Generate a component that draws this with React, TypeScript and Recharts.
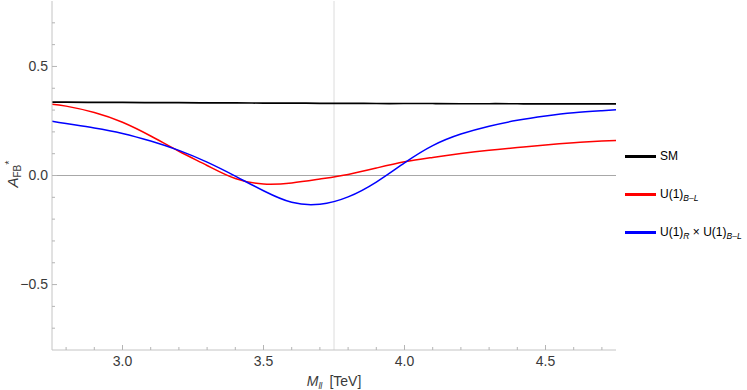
import React from "react";
import { LineChart, Line, XAxis, YAxis, ReferenceLine, Legend } from "recharts";

const mll = [2.75, 2.8, 2.9, 3.0, 3.1, 3.2, 3.3, 3.4, 3.5, 3.6, 3.7, 3.8, 3.9, 4.0, 4.1, 4.2, 4.3, 4.4, 4.5, 4.6, 4.7, 4.75];
const smValues = [0.336, 0.336, 0.335, 0.335, 0.334, 0.334, 0.333, 0.333, 0.332, 0.332, 0.331, 0.331, 0.330, 0.330, 0.330, 0.329, 0.329, 0.329, 0.328, 0.328, 0.328, 0.328];
const blValues = [0.327, 0.318, 0.289, 0.244, 0.181, 0.111, 0.046, -0.014, -0.039, -0.034, -0.016, 0.005, 0.034, 0.063, 0.083, 0.101, 0.116, 0.128, 0.140, 0.150, 0.158, 0.161];
const rblValues = [0.249, 0.238, 0.218, 0.193, 0.158, 0.115, 0.061, -0.003, -0.070, -0.123, -0.132, -0.098, -0.030, 0.058, 0.137, 0.190, 0.226, 0.253, 0.273, 0.288, 0.297, 0.301];

const xTicks = [2.8, 2.9, 3.0, 3.1, 3.2, 3.3, 3.4, 3.5, 3.6, 3.7, 3.8, 3.9, 4.0, 4.1, 4.2, 4.3, 4.4, 4.5, 4.6, 4.7];
const xLabelTicks = [3.0, 3.5, 4.0, 4.5];
const yTicks = [-0.7, -0.6, -0.5, -0.4, -0.3, -0.2, -0.1, 0.0, 0.1, 0.2, 0.3, 0.4, 0.5, 0.6, 0.7];
const yLabelTicks = [-0.5, 0.0, 0.5];

const seriesNames = ["SM", "U(1)_B-L", "U(1)_R x U(1)_B-L"];
const seriesColors = ["#000000", "#ff0000", "#0000ff"];

const data = mll.map((m, i) => ({ mll: m, sm: smValues[i], bl: blValues[i], rbl: rblValues[i] }));

const FONT = '"Liberation Sans", Arial, sans-serif';
const TICK_COLOR = "#b4b4b4";
const LABEL_COLOR = "#3a3a3a";

const isLabeled = (v: number, list: number[]) => list.some((t) => Math.abs(t - v) < 1e-6);
const fmt = (v: number) => (v < 0 ? "\u2212" + Math.abs(v).toFixed(1) : v.toFixed(1));

const BottomTick = (props: any) => {
  const { x, y, payload } = props;
  const major = isLabeled(payload.value, xLabelTicks);
  return (
    <g>
      <line x1={x} x2={x} y1={y} y2={y - (major ? 5 : 3)} stroke={TICK_COLOR} strokeWidth={1} />
      {major && (
        <text x={x} y={y + 16} textAnchor="middle" fontSize={14} fill={LABEL_COLOR} fontFamily={FONT}>
          {fmt(payload.value)}
        </text>
      )}
    </g>
  );
};

const TopTick = (props: any) => {
  const { x, y, payload } = props;
  const major = isLabeled(payload.value, xLabelTicks);
  return <line x1={x} x2={x} y1={y} y2={y + (major ? 5 : 3)} stroke={TICK_COLOR} strokeWidth={1} />;
};

const LeftTick = (props: any) => {
  const { x, y, payload } = props;
  const major = isLabeled(payload.value, yLabelTicks);
  return (
    <g>
      <line x1={x} x2={x + (major ? 5 : 3)} y1={y} y2={y} stroke={TICK_COLOR} strokeWidth={1} />
      {major && (
        <text x={x - 4} y={y} dy="0.35em" textAnchor="end" fontSize={14} fill={LABEL_COLOR} fontFamily={FONT}>
          {fmt(payload.value)}
        </text>
      )}
    </g>
  );
};

const RightTick = (props: any) => {
  const { x, y, payload } = props;
  const major = isLabeled(payload.value, yLabelTicks);
  return <line x1={x} x2={x - (major ? 5 : 3)} y1={y} y2={y} stroke={TICK_COLOR} strokeWidth={1} />;
};

const XTitle = () => (
  <text x={334} y={386} textAnchor="middle" fontSize={14} fill={LABEL_COLOR} fontFamily={FONT}>
    <tspan fontStyle="italic">M</tspan>
    <tspan fontStyle="italic" fontSize={9} dy={3}>ll</tspan>
    <tspan dy={-3} dx={7}>[TeV]</tspan>
  </text>
);

const YTitle = () => (
  <text
    x={18}
    y={174}
    transform="rotate(-90 18 174)"
    textAnchor="middle"
    fontSize={15}
    fill={LABEL_COLOR}
    fontFamily={FONT}
  >
    <tspan fontStyle="italic">A</tspan>
    <tspan fontSize={10} dy={3}>FB</tspan>
    <tspan fontSize={11} dy={-8}>*</tspan>
  </text>
);

const Sub = ({ children }: { children: React.ReactNode }) => (
  <span style={{ fontSize: 8.5, fontStyle: "italic", position: "relative", top: 3 }}>{children}</span>
);

const legendLabels: React.ReactNode[] = [
  <span>SM</span>,
  <span>
    U(1)<Sub>B{"\u2013"}L</Sub>
  </span>,
  <span>
    U(1)<Sub>R</Sub> {"\u00d7"} U(1)<Sub>B{"\u2013"}L</Sub>
  </span>,
];

const renderLegend = () => (
  <div style={{ fontFamily: FONT, fontSize: 12, color: "#000" }}>
    {seriesNames.map((name, i) => (
      <div key={name} style={{ height: 38, display: "flex", alignItems: "center", whiteSpace: "nowrap" }}>
        <div style={{ width: 31, height: 3, background: seriesColors[i], marginRight: 4 }} />
        {legendLabels[i]}
      </div>
    ))}
  </div>
);

export default function App() {
  return (
    <div style={{ position: "absolute", left: 0, top: 0, width: 747, height: 390, background: "#fff" }}>
      <LineChart width={747} height={390} data={data} margin={{ top: 1, right: 131, bottom: 0, left: 0 }}>
        <XAxis
          dataKey="mll"
          type="number"
          domain={[2.75, 4.75]}
          ticks={xTicks}
          interval={0}
          height={40}
          tickSize={0}
          tickMargin={0}
          tick={(p: any) => <BottomTick {...p} />}
          tickLine={false}
          axisLine={{ stroke: "#c4c4c4" }}
          allowDataOverflow
          label={() => <XTitle />}
        />
        <XAxis
          xAxisId="top"
          orientation="top"
          dataKey="mll"
          type="number"
          domain={[2.75, 4.75]}
          ticks={xTicks}
          interval={0}
          height={0}
          tickSize={0}
          tickMargin={0}
          tick={(p: any) => <TopTick {...p} />}
          tickLine={false}
          axisLine={{ stroke: "#c4c4c4" }}
          allowDataOverflow
        />
        <YAxis
          type="number"
          domain={[-0.8, 0.8]}
          ticks={yTicks}
          interval={0}
          width={52}
          tickSize={0}
          tickMargin={0}
          tick={(p: any) => <LeftTick {...p} />}
          tickLine={false}
          axisLine={{ stroke: "#c4c4c4" }}
          allowDataOverflow
          label={() => <YTitle />}
        />
        <YAxis
          yAxisId="right"
          orientation="right"
          type="number"
          domain={[-0.8, 0.8]}
          ticks={yTicks}
          interval={0}
          width={0}
          tickSize={0}
          tickMargin={0}
          tick={(p: any) => <RightTick {...p} />}
          tickLine={false}
          axisLine={{ stroke: "#c4c4c4" }}
          allowDataOverflow
        />
        <ReferenceLine x={3.75} stroke="#dcdcdc" strokeWidth={1} />
        <ReferenceLine y={0} stroke="#a8a8a8" strokeWidth={1} />
        <Line type="natural" dataKey="sm" stroke={seriesColors[0]} strokeWidth={1.7} dot={false} isAnimationActive={false} />
        <Line type="natural" dataKey="bl" stroke={seriesColors[1]} strokeWidth={1.5} dot={false} isAnimationActive={false} />
        <Line type="natural" dataKey="rbl" stroke={seriesColors[2]} strokeWidth={1.5} dot={false} isAnimationActive={false} />
        <Legend
          layout="vertical"
          align="center"
          verticalAlign="middle"
          content={renderLegend}
          wrapperStyle={{ left: 625, top: 137, width: 122 }}
        />
      </LineChart>
    </div>
  );
}
